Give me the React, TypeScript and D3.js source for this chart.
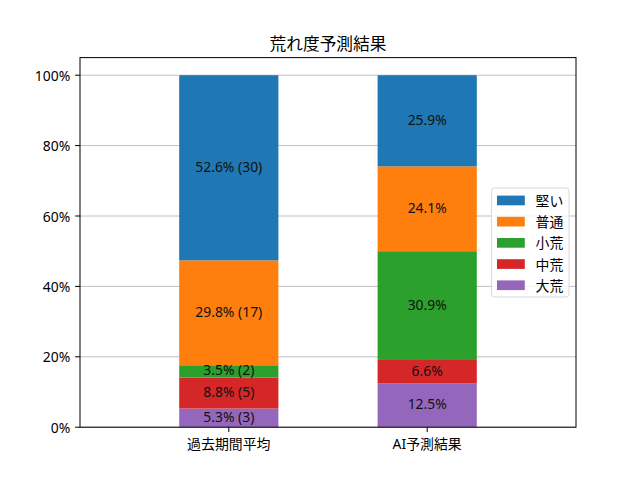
import * as d3 from "d3";

const CATEGORIES = ["過去期間平均", "AI予測結果"];
const SERIES = ["大荒", "中荒", "小荒", "普通", "堅い"];
const COLORS = ["#9467bd", "#d62728", "#2ca02c", "#ff7f0e", "#1f77b4"];
// percentages per series, one value per category
const PCT = [
  [5.3, 12.5],
  [8.8, 6.6],
  [3.5, 30.9],
  [29.8, 24.1],
  [52.6, 25.9],
];
const COUNTS: (number | null)[][] = [
  [3, null],
  [5, null],
  [2, null],
  [17, null],
  [30, null],
];
const Y_TICKS = [0, 20, 40, 60, 80, 100];
const LEGEND_ORDER = ["堅い", "普通", "小荒", "中荒", "大荒"];

const W = 640;
const H = 480;
const margin = { top: 57.6, right: 64, bottom: 52.8, left: 80 };
const FONT = "'Noto Sans', 'Noto Sans CJK JP', sans-serif";

const App = () => {
  const x = d3
    .scaleLinear()
    .domain([-0.75, 1.75])
    .range([margin.left, W - margin.right]);
  const y = d3
    .scaleLinear()
    .domain([0, 105])
    .range([H - margin.bottom, margin.top]);
  const barW = x(0.5) - x(0);

  const rows = CATEGORIES.map((c, i) => {
    const o: any = { cat: c };
    SERIES.forEach((s, j) => (o[s] = PCT[j][i]));
    return o;
  });
  const stacked = d3.stack<any>().keys(SERIES)(rows);

  const legX = 491.5;
  const legY = 188;

  return (
    <svg
      width={W}
      height={H}
      style={{ position: "absolute", left: 0, top: 0, background: "#fff" }}
      fontFamily={FONT}
    >
      <rect width={W} height={H} fill="#fff" />
      <text x={(margin.left + W - margin.right) / 2} y={50} textAnchor="middle" fontSize={16.7}>
        荒れ度予測結果
      </text>
      {/* grid */}
      {Y_TICKS.map((t) => (
        <line
          key={t}
          x1={margin.left}
          x2={W - margin.right}
          y1={y(t)}
          y2={y(t)}
          stroke="#b0b0b0"
          strokeWidth={0.8}
        />
      ))}
      {/* bars */}
      {stacked.map((layer, j) =>
        layer.map((d, i) => (
          <rect
            key={`${j}-${i}`}
            x={x(i) - barW / 2}
            width={barW}
            y={y(d[1])}
            height={y(d[0]) - y(d[1])}
            fill={COLORS[j]}
          />
        ))
      )}
      {stacked.map((layer, j) =>
        layer.map((d, i) => {
          const cnt = COUNTS[j][i];
          const label = `${PCT[j][i].toFixed(1)}%` + (cnt !== null ? ` (${cnt})` : "");
          return (
            <text
              key={`t${j}-${i}`}
              x={x(i)}
              y={y((d[0] + d[1]) / 2) - 1.5}
              textAnchor="middle"
              dominantBaseline="central"
              fontSize={13.9}
              fill="#111"
            >
              {label}
            </text>
          );
        })
      )}
      {/* axes frame */}
      <rect
        x={margin.left}
        y={margin.top}
        width={W - margin.left - margin.right}
        height={H - margin.top - margin.bottom}
        fill="none"
        stroke="#000"
        strokeWidth={1}
      />
      {Y_TICKS.map((t) => (
        <g key={`yt${t}`}>
          <line x1={margin.left - 4.9} x2={margin.left} y1={y(t)} y2={y(t)} stroke="#000" />
          <text
            x={margin.left - 9.8}
            y={y(t)}
            textAnchor="end"
            dominantBaseline="central"
            fontSize={13.9}
          >
            {`${t}%`}
          </text>
        </g>
      ))}
      {CATEGORIES.map((c, i) => (
        <g key={c}>
          <line
            x1={x(i)}
            x2={x(i)}
            y1={H - margin.bottom}
            y2={H - margin.bottom + 4.9}
            stroke="#000"
          />
          <text
            x={x(i)}
            y={H - margin.bottom + 9.8}
            textAnchor="middle"
            dominantBaseline="hanging"
            fontSize={13.9}
          >
            {c}
          </text>
        </g>
      ))}
      {/* legend */}
      <rect
        x={legX}
        y={legY}
        width={77.5}
        height={109}
        rx={3}
        fill="#fff"
        fillOpacity={0.8}
        stroke="#d9d9d9"
      />
      {LEGEND_ORDER.map((s, k) => {
        const j = SERIES.indexOf(s);
        const cy = legY + 12.5 + k * 21.2;
        return (
          <g key={s}>
            <rect x={legX + 5.5} y={cy - 4.9} width={27.8} height={9.7} fill={COLORS[j]} />
            <text x={legX + 44} y={cy} dominantBaseline="central" fontSize={13.9}>
              {s}
            </text>
          </g>
        );
      })}
    </svg>
  );
};

export default App;
